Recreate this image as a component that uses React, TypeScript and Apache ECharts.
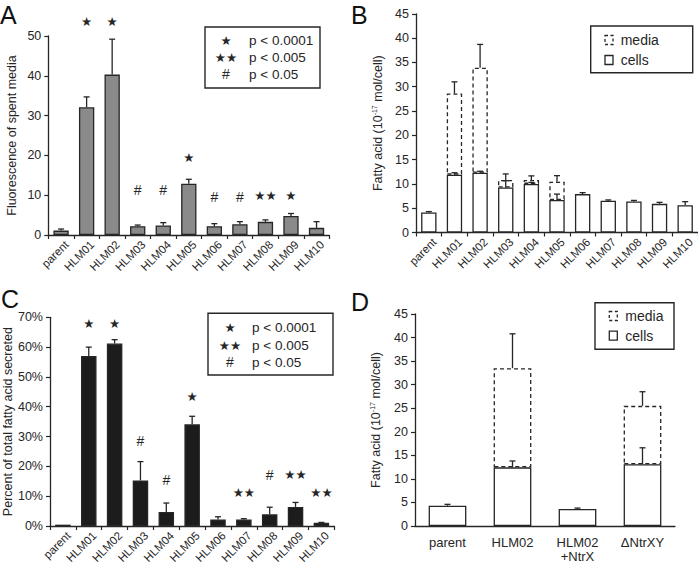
import React, { useEffect, useRef } from "react";
import * as echarts from "echarts";

// ---------- data ----------
const categories = ["parent", "HLM01", "HLM02", "HLM03", "HLM04", "HLM05", "HLM06", "HLM07", "HLM08", "HLM09", "HLM10"];

// Panel A: fluorescence of spent media
const fluorValues = [1.1, 32.1, 40.3, 2.2, 2.4, 12.9, 2.2, 2.7, 3.3, 4.8, 1.8];
const fluorErr = [0.4, 2.6, 8.9, 0.3, 0.7, 1.1, 0.65, 0.65, 0.5, 0.6, 1.55];
const fluorMarks = ["", "★", "★", "#", "#", "★", "#", "#", "★★", "★", ""];
const fluorMarkY = [null, 53.6, 53.6, 11.3, 11.3, 19.5, 9.6, 9.6, 10.0, 10.0, null];

// Panel B: fatty acid (10^-17 mol/cell), cells + media (stacked)
const cellsB = [4.1, 11.9, 12.3, 9.25, 10.0, 6.7, 7.9, 6.55, 6.4, 5.9, 5.6];
const cellsErrB = [0.2, 0.4, 0.3, 1.4, 0.3, 1.2, 0.3, 0.15, 0.2, 0.3, 0.75];
const mediaB = [null, 16.7, 21.6, 1.55, 0.8, 3.75, null, null, null, null, null];
const mediaErrB = [0, 2.4, 4.8, 1.25, 0.85, 1.25, 0, 0, 0, 0, 0];

// Panel C: percent of total fatty acid secreted
const pctValues = [0.45, 57.0, 61.2, 15.3, 4.7, 34.1, 2.2, 2.2, 3.9, 6.4, 1.1];
const pctErr = [0, 3.0, 1.3, 6.3, 3.0, 2.7, 0.9, 0.25, 2.4, 1.5, 0.1];
const pctMarks = ["", "★", "★", "#", "#", "★", "", "★★", "#", "★★", "★★"];
const pctMarkY = [null, 67.8, 67.8, 28.6, 15.4, 43.4, null, 11.4, 17.2, 17.2, 11.4];

// Panel D
const dCategories = ["parent", "HLM02", "HLM02\n+NtrX", "ΔNtrXY"];
const cellsD = [4.3, 12.45, 3.6, 13.1];
const cellsErrD = [0.3, 1.35, 0.2, 3.5];
const mediaD = [null, 21.05, null, 12.4];
const mediaErrD = [0, 7.3, 0, 3.0];

// Axis ticks
const yTicksA = { min: 0, max: 50, interval: 10 };
const yTicksB = { min: 0, max: 45, interval: 5 };
const yTicksC = { min: 0, max: 70, interval: 10 };
const yTicksD = { min: 0, max: 45, interval: 5 };

// Legend texts
const sigLegend = [
  { mark: "★", text: "p < 0.0001" },
  { mark: "★★", text: "p < 0.005" },
  { mark: "#", text: "p < 0.05" },
];

// ---------- styling ----------
const FONT = '"Liberation Sans", Arial, Helvetica, sans-serif';
const INK = "#262626";
const STAR_FONT = '12.5px "DejaVu Sans", sans-serif';
const HASH_FONT = `14px ${FONT}`;

function errSeries(xi: number, base: (number | null)[], err: number[]) {
  const data: number[][] = [];
  base.forEach((b, i) => {
    if (b == null || !err[i]) return;
    data.push([i, b, b + err[i]]);
  });
  return {
    type: "custom",
    xAxisIndex: xi,
    yAxisIndex: xi,
    z: 5,
    encode: { x: 0, y: [1, 2] },
    data,
    renderItem: (_p: any, api: any) => {
      const x = api.value(0);
      const p0 = api.coord([x, api.value(1)]);
      const p1 = api.coord([x, api.value(2)]);
      const hw = 3;
      const st = { stroke: INK, lineWidth: 1.3 };
      return {
        type: "group",
        children: [
          { type: "line", shape: { x1: p0[0], y1: p0[1], x2: p1[0], y2: p1[1] }, style: st },
          { type: "line", shape: { x1: p1[0] - hw, y1: p1[1], x2: p1[0] + hw, y2: p1[1] }, style: st },
        ],
      };
    },
  };
}

function markSeries(xi: number, ys: (number | null)[], marks: string[]) {
  const entries: { i: number; y: number; t: string }[] = [];
  ys.forEach((y, i) => {
    if (y == null || !marks[i]) return;
    entries.push({ i, y, t: marks[i] });
  });
  return {
    type: "custom",
    xAxisIndex: xi,
    yAxisIndex: xi,
    clip: false,
    z: 6,
    encode: { x: 0, y: 1 },
    data: entries.map((e) => [e.i, e.y]),
    renderItem: (p: any, api: any) => {
      const e = entries[p.dataIndex];
      const pt = api.coord([api.value(0), api.value(1)]);
      const isStar = e.t.indexOf("★") >= 0;
      return {
        type: "text",
        x: pt[0],
        y: pt[1],
        style: {
          text: e.t,
          fill: INK,
          font: isStar ? STAR_FONT : HASH_FONT,
          textAlign: "center",
          textVerticalAlign: "middle",
        },
      };
    },
  };
}

function stackTop(a: (number | null)[], b: (number | null)[]) {
  return a.map((v, i) => (b[i] == null ? null : (v as number) + (b[i] as number)));
}

function catAxis(gi: number, data: string[], d = false) {
  return {
    type: "category",
    gridIndex: gi,
    data,
    axisLine: { lineStyle: { color: INK, width: 1.3 } },
    axisTick: { show: !d, length: 4, lineStyle: { color: INK, width: 1.2 } },
    axisLabel: d
      ? { color: INK, fontSize: 13, fontFamily: FONT, margin: 9, lineHeight: 14, interval: 0 }
      : { color: INK, fontSize: 11.5, fontFamily: FONT, rotate: 45, margin: 2, interval: 0, verticalAlign: "top", lineHeight: 16 },
  };
}

function valAxis(gi: number, t: { min: number; max: number; interval: number }, name: string, gap: number, pct = false) {
  return {
    type: "value",
    gridIndex: gi,
    min: t.min,
    max: t.max,
    interval: t.interval,
    name,
    nameLocation: "middle",
    nameGap: gap,
    nameTextStyle: {
      color: INK,
      fontSize: 12.5,
      fontFamily: FONT,
      rich: { sup: { fontSize: 7, verticalAlign: "top", color: INK, fontFamily: FONT, padding: [0, 0, 6, 0] } },
    },
    splitLine: { show: false },
    axisLine: { show: true, lineStyle: { color: INK, width: 1.3 } },
    axisTick: { show: true, length: 4, lineStyle: { color: INK, width: 1.2 } },
    axisLabel: { color: INK, fontSize: 12.5, fontFamily: FONT, margin: 7, formatter: pct ? "{value}%" : "{value}" },
  };
}

function sigLegendGraphic(x: number, y: number, w: number, h: number, markX: number, textX: number, rowY: number[]) {
  const children: any[] = [
    { type: "rect", shape: { x, y, width: w, height: h }, style: { fill: "#fff", stroke: INK, lineWidth: 1.4 } },
  ];
  sigLegend.forEach((r, k) => {
    const star = r.mark.indexOf("★") >= 0;
    children.push({
      type: "text",
      x: markX,
      y: rowY[k],
      style: {
        text: r.mark,
        fill: INK,
        font: star ? STAR_FONT : HASH_FONT,
        textAlign: "center",
        textVerticalAlign: "middle",
      },
    });
    children.push({
      type: "text",
      x: textX,
      y: rowY[k],
      style: { text: r.text, fill: INK, font: `13.5px ${FONT}`, textAlign: "left", textVerticalAlign: "middle" },
    });
  });
  return children;
}

function mcLegendGraphic(x: number, y: number, w: number, h: number, iconX: number, textX: number, rowY: number[]) {
  return [
    { type: "rect", shape: { x, y, width: w, height: h }, style: { fill: "#fff", stroke: INK, lineWidth: 1.4 } },
    { type: "rect", shape: { x: iconX, y: rowY[0] - 4.5, width: 8, height: 9 }, style: { fill: "none", stroke: INK, lineWidth: 1.3, lineDash: [3, 2.5] } },
    { type: "text", x: textX, y: rowY[0], style: { text: "media", fill: INK, font: `14px ${FONT}`, textVerticalAlign: "middle" } },
    { type: "rect", shape: { x: iconX, y: rowY[1] - 4.5, width: 8, height: 9 }, style: { fill: "none", stroke: INK, lineWidth: 1.3 } },
    { type: "text", x: textX, y: rowY[1], style: { text: "cells", fill: INK, font: `14px ${FONT}`, textVerticalAlign: "middle" } },
  ];
}

function panelLetter(t: string, x: number, y: number) {
  return { type: "text", x, y, style: { text: t, fill: "#111", font: `25px ${FONT}`, textVerticalAlign: "top" } };
}

export default function App() {
  const ref = useRef<HTMLDivElement>(null);
  useEffect(() => {
    if (!ref.current) return;
    const chart = echarts.init(ref.current, null, { renderer: "svg" });
    const barBorder = { borderColor: INK, borderWidth: 1.3 };
    const totalB = stackTop(cellsB, mediaB);
    const totalD = stackTop(cellsD, mediaD);
    const g = { containLabel: false, outerBoundsMode: "none" };
    const option: any = {
      animation: false,
      backgroundColor: "#fff",
      textStyle: { fontFamily: FONT },
      grid: [
        { ...g, left: 48.3, top: 36, width: 281, height: 199 },
        { ...g, left: 416, top: 13.8, width: 282, height: 218.7 },
        { ...g, left: 50, top: 317.3, width: 284.3, height: 208.7 },
        { ...g, left: 415, top: 314, width: 260, height: 212 },
      ],
      xAxis: [catAxis(0, categories), catAxis(1, categories), catAxis(2, categories), catAxis(3, dCategories, true)],
      yAxis: [
        valAxis(0, yTicksA, "Fluorescence of spent media", 30),
        valAxis(1, yTicksB, "Fatty acid (10{sup|-17} mol/cell)", 32),
        valAxis(2, yTicksC, "Percent of total fatty acid secreted", 33, true),
        valAxis(3, yTicksD, "Fatty acid (10{sup|-17} mol/cell)", 33),
      ],
      series: [
        // A
        { type: "bar", xAxisIndex: 0, yAxisIndex: 0, data: fluorValues, barWidth: "60%", itemStyle: { color: "#8a8a8a", ...barBorder } },
        errSeries(0, fluorValues, fluorErr),
        markSeries(0, fluorMarkY, fluorMarks),
        // B
        { type: "bar", xAxisIndex: 1, yAxisIndex: 1, stack: "b", data: cellsB, barWidth: "60%", itemStyle: { color: "#fff", ...barBorder } },
        errSeries(1, cellsB, cellsErrB),
        { type: "bar", xAxisIndex: 1, yAxisIndex: 1, stack: "b", data: mediaB, barWidth: "60%", z: 4, itemStyle: { color: "rgba(0,0,0,0)", borderColor: INK, borderWidth: 1.3, borderType: [4, 3] } },
        errSeries(1, totalB, mediaErrB),
        // C
        { type: "bar", xAxisIndex: 2, yAxisIndex: 2, data: pctValues, barWidth: "60%", itemStyle: { color: "#1c1c1c", ...barBorder } },
        errSeries(2, pctValues, pctErr),
        markSeries(2, pctMarkY, pctMarks),
        // D
        { type: "bar", xAxisIndex: 3, yAxisIndex: 3, stack: "d", data: cellsD, barWidth: "58%", itemStyle: { color: "#fff", ...barBorder } },
        errSeries(3, cellsD, cellsErrD),
        { type: "bar", xAxisIndex: 3, yAxisIndex: 3, stack: "d", data: mediaD, barWidth: "58%", z: 4, itemStyle: { color: "rgba(0,0,0,0)", borderColor: INK, borderWidth: 1.3, borderType: [4, 3] } },
        errSeries(3, totalD, mediaErrD),
      ],
      graphic: [
        panelLetter("A", 0, 2),
        panelLetter("B", 351, 2),
        panelLetter("C", 1, 286),
        panelLetter("D", 351, 289),
        { type: "group", children: sigLegendGraphic(205, 27, 115, 61, 226, 249, [40.7, 57.3, 74]) },
        { type: "group", children: sigLegendGraphic(208, 313.3, 125, 61.7, 230, 252, [327.7, 345, 362.3]) },
        { type: "group", children: mcLegendGraphic(590.7, 26, 102, 46.7, 605, 620.7, [40, 60]) },
        { type: "group", children: mcLegendGraphic(595, 302.7, 79, 46.6, 609.3, 625.3, [316, 335.7]) },
      ],
    };
    chart.setOption(option);
    return () => chart.dispose();
  }, []);
  return <div ref={ref} style={{ position: "absolute", left: 0, top: 0, width: 698, height: 566, background: "#fff" }} />;
}
